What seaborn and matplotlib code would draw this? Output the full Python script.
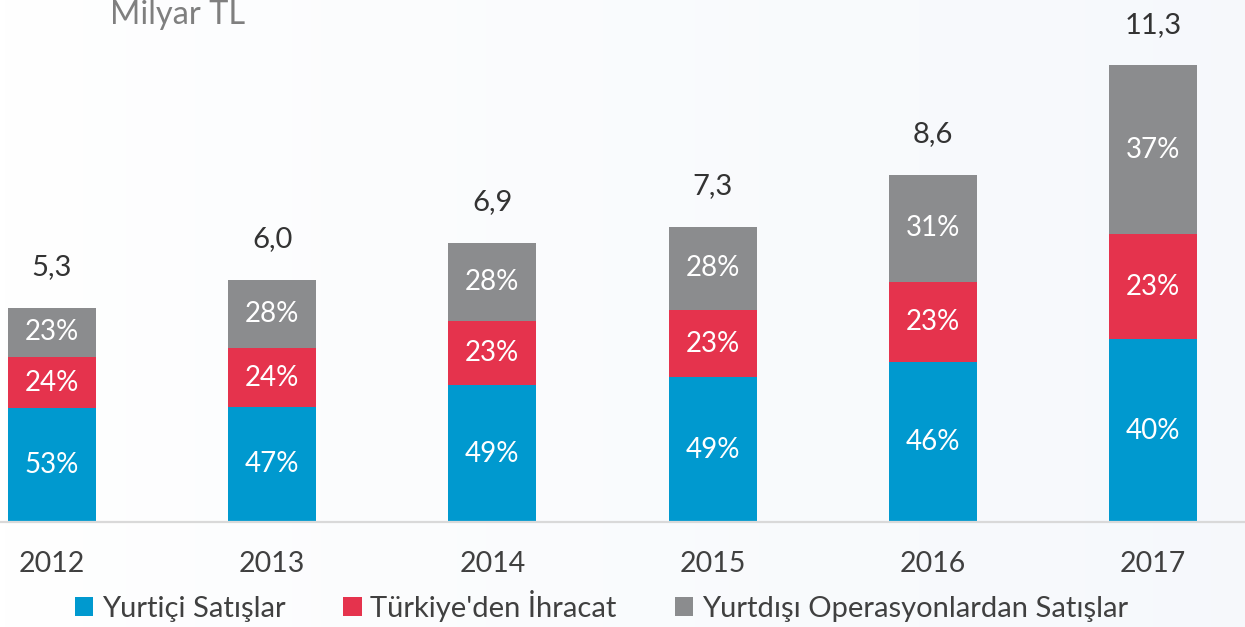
import numpy as np
import pandas as pd
import matplotlib
matplotlib.use("Agg")
import matplotlib.pyplot as plt
from matplotlib.patches import Patch
import seaborn as sns

# Net sales by origin, billion TL, 2012-2017
years = ["2012", "2013", "2014", "2015", "2016", "2017"]
totals = [5.3, 6.0, 6.9, 7.3, 8.6, 11.3]
domestic_pct = [53, 47, 49, 49, 46, 40]
export_pct = [24, 24, 23, 23, 23, 23]
abroad_pct = [23, 28, 28, 28, 31, 37]

series_names = ["Yurtiçi Satışlar", "Türkiye'den İhracat", "Yurtdışı Operasyonlardan Satışlar"]
series_colors = ["#0099cf", "#e5334d", "#8b8c8e"]

sns.set_theme(style="white")
plt.rcParams["font.family"] = ["Lato", "DejaVu Sans"]

fig = plt.figure(figsize=(12.45, 6.27), dpi=100)

# faint background wash, white on the left fading to a cool tint on the right
bg = fig.add_axes([0, 0, 1, 1], zorder=-10)
grad = np.linspace(0, 1, 256) ** 0.8
c0 = np.array([1.0, 1.0, 1.0])
c1 = np.array([0.965, 0.975, 0.988])
img = c0[None, :] * (1 - grad[:, None]) + c1[None, :] * grad[:, None]
bg.imshow(img[None, :, :], aspect="auto", extent=(0, 1, 0, 1))
bg.set_axis_off()

ax = fig.add_axes([0, 0.1675, 1, 0.8325])
ax.set_facecolor("none")

pcts = [domestic_pct, export_pct, abroad_pct]
seg = [np.array(totals) * np.array(p) / np.array([sum(x) for x in zip(*pcts)]) for p in pcts]
cum = np.cumsum(np.vstack(seg), axis=0)

df = pd.DataFrame({"year": years})
# draw tallest layer first so lower layers sit on top of it
for i in (2, 1, 0):
    df["val"] = cum[i]
    sns.barplot(data=df, x="year", y="val", order=years, color=series_colors[i],
                width=0.4, saturation=1, ax=ax, edgecolor="none", linewidth=0)

# percentage labels inside each segment
for i in range(3):
    base = cum[i - 1] if i > 0 else np.zeros(len(years))
    for j in range(len(years)):
        mid = base[j] + seg[i][j] / 2
        ax.text(j, mid, f"{pcts[i][j]}%", ha="center", va="center",
                color="white", fontsize=20)

# totals above each bar
for j, t in enumerate(totals):
    ax.annotate(f"{t:.1f}".replace(".", ","), xy=(j, cum[2][j]), xytext=(0, 20),
                textcoords="offset points", ha="center", va="bottom",
                color="#333333", fontsize=21)

ax.set_xlim(-0.236, 5.418)
ax.set_ylim(0, 12.92)
ax.set_xlabel("")
ax.set_ylabel("")
ax.set_yticks([])
for s in ("top", "right", "left"):
    ax.spines[s].set_visible(False)
ax.spines["bottom"].set_color("#d9d9d9")
ax.spines["bottom"].set_linewidth(1.6)
ax.tick_params(axis="x", length=0, pad=21, labelsize=20.5, labelcolor="#404040")

fig.text(110 / 1245, 1 - 15 / 627, "Milyar TL", ha="left", va="center",
         fontsize=23.5, color="#7f7f7f")

handles = [Patch(facecolor=c, edgecolor="none") for c in series_colors]
fig.legend(handles, series_names, loc="center", bbox_to_anchor=(0.483, 0.034),
           ncol=3, frameon=False, fontsize=21, handlelength=0.62, handleheight=0.62,
           handletextpad=0.3, columnspacing=2.0, labelcolor="#404040")

fig.savefig("out.png", dpi=100)
